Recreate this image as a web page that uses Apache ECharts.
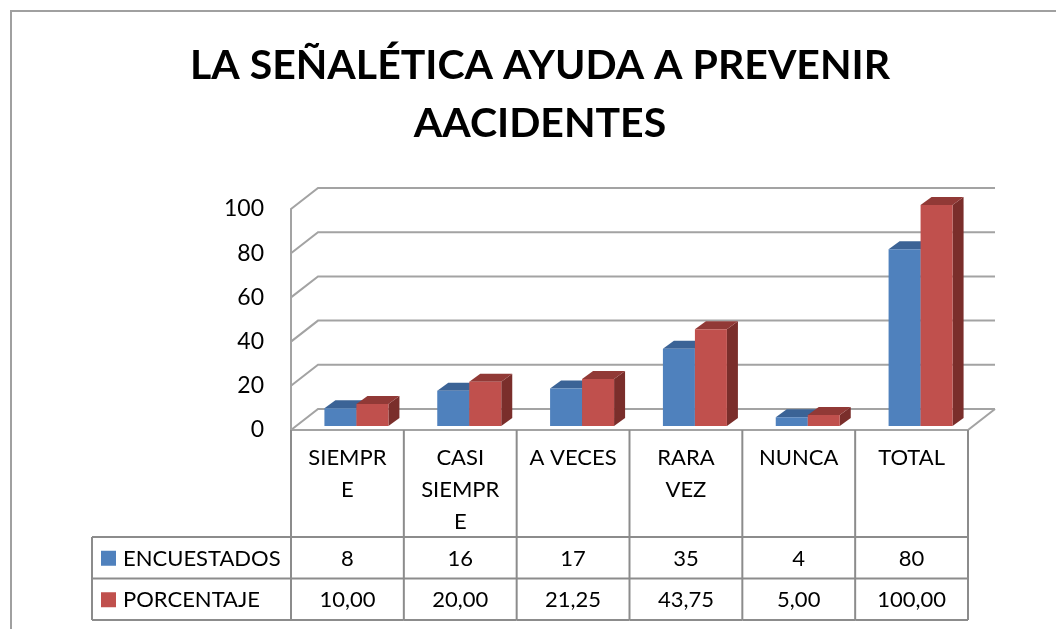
<!DOCTYPE html>
<html>
<head>
<meta charset="utf-8">
<script src="https://cdn.jsdelivr.net/npm/echarts@6/dist/echarts.min.js"></script>
<style>
  html, body { margin: 0; padding: 0; background: #fff; }
  #chart { width: 1056px; height: 629px; }
</style>
</head>
<body>
<div id="chart"></div>
<script>
// datos del gráfico
const categories = ['SIEMPRE', 'CASI SIEMPRE', 'A VECES', 'RARA VEZ', 'NUNCA', 'TOTAL'];
const categoryLabels = ['SIEMPR\nE', 'CASI\nSIEMPR\nE', 'A VECES', 'RARA\nVEZ', 'NUNCA', 'TOTAL'];
const seriesNames = ['ENCUESTADOS', 'PORCENTAJE'];
const encuestados = [8, 16, 17, 35, 4, 80];
const porcentaje = [10, 20, 21.25, 43.75, 5, 100];
const encuestadosLabels = ['8', '16', '17', '35', '4', '80'];
const porcentajeLabels = ['10,00', '20,00', '21,25', '43,75', '5,00', '100,00'];
const yTicks = [0, 20, 40, 60, 80, 100];

const FONT = 'Lato';
const GRID_COLOR = '#a3a3a3';
const TABLE_COLOR = '#8c8c8c';
const DEPTH = { dx: 27, dy: -21 };      // profundidad del piso / paredes
const BAR_SHIFT = { dx: 9, dy: -4 };    // posición de las barras en profundidad
const BAR_DEPTH = { dx: 11, dy: -8 };   // profundidad de cada barra
const BAR_W = 32;

const colors = [
  { front: '#4f81bd', top: '#3b6396', side: '#385d8a' },
  { front: '#c0504d', top: '#913936', side: '#7a2e2b' }
];

// paredes y líneas de división en 3D
function renderWalls(params, api) {
  const cs = params.coordSys;
  const v = api.value(1);
  const y = api.coord([0, v])[1];
  const L = cs.x, R = cs.x + cs.width;
  const children = [{
    type: 'polyline',
    shape: { points: [[L, y], [L + DEPTH.dx, y + DEPTH.dy], [R + DEPTH.dx, y + DEPTH.dy]] },
    style: { stroke: GRID_COLOR, lineWidth: 2, fill: null }
  }];
  if (v === 0) {
    children.push({
      type: 'polyline',
      shape: { points: [[L, y], [R, y], [R + DEPTH.dx, y + DEPTH.dy]] },
      style: { stroke: GRID_COLOR, lineWidth: 2, fill: null }
    });
  }
  return { type: 'group', children: children };
}

// barras con caras frontal, superior y lateral
function makeBarRenderer(k) {
  return function (params, api) {
    const cs = params.coordSys;
    const i = api.value(0);
    const bw = cs.width / categories.length;
    const cx = cs.x + (i + 0.5) * bw + BAR_SHIFT.dx;
    const x0 = k === 0 ? cx - BAR_W : cx;
    const x1 = x0 + BAR_W;
    const yTop = api.coord([i, api.value(1)])[1] + BAR_SHIFT.dy;
    const yBase = api.coord([i, 0])[1] + BAR_SHIFT.dy;
    const c = colors[k];
    return {
      type: 'group',
      children: [
        {
          type: 'polygon',
          shape: { points: [[x1, yTop], [x1 + BAR_DEPTH.dx, yTop + BAR_DEPTH.dy], [x1 + BAR_DEPTH.dx, yBase + BAR_DEPTH.dy], [x1, yBase]] },
          style: { fill: c.side }
        },
        {
          type: 'polygon',
          shape: { points: [[x0, yTop], [x1, yTop], [x1 + BAR_DEPTH.dx, yTop + BAR_DEPTH.dy], [x0 + BAR_DEPTH.dx, yTop + BAR_DEPTH.dy]] },
          style: { fill: c.top }
        },
        {
          type: 'rect',
          shape: { x: x0, y: yTop, width: BAR_W, height: yBase - yTop },
          style: { fill: c.front }
        }
      ]
    };
  };
}

function line(x1, y1, x2, y2) {
  return { type: 'line', shape: { x1: x1, y1: y1, x2: x2, y2: y2 }, style: { stroke: TABLE_COLOR, lineWidth: 2 } };
}

function cellText(text, x, y, align) {
  return {
    type: 'text',
    style: { text: text, x: x, y: y, align: align || 'center', verticalAlign: 'middle', fontSize: 22, fontFamily: FONT, fill: '#000' }
  };
}

// tabla de datos bajo el gráfico
function renderTable(params, api) {
  const cs = params.coordSys;
  const i = api.value(0);
  const bw = cs.width / categories.length;
  const x0 = cs.x + i * bw, x1 = x0 + bw;
  const base = api.coord([i, 0])[1];
  const r1 = base + 107, r2 = r1 + 41.5, r3 = r2 + 41.5;
  const children = [
    line(x0, base, x0, r3),
    line(x0, r1, x1, r1),
    line(x0, r2, x1, r2),
    line(x0, r3, x1, r3),
    cellText(encuestadosLabels[i], (x0 + x1) / 2, (r1 + r2) / 2 + 1),
    cellText(porcentajeLabels[i], (x0 + x1) / 2, (r2 + r3) / 2 + 1)
  ];
  if (i === categories.length - 1) children.push(line(x1, base, x1, r3));
  if (i === 0) {
    const lx = x0 - 199;
    children.push(
      line(lx, r1, x0, r1), line(lx, r2, x0, r2), line(lx, r3, x0, r3), line(lx, r1, lx, r3),
      { type: 'rect', shape: { x: lx + 9, y: (r1 + r2) / 2 - 7, width: 15, height: 15 }, style: { fill: colors[0].front } },
      { type: 'rect', shape: { x: lx + 9, y: (r2 + r3) / 2 - 7, width: 15, height: 15 }, style: { fill: colors[1].front } },
      cellText(seriesNames[0], lx + 31, (r1 + r2) / 2 + 1, 'left'),
      cellText(seriesNames[1], lx + 31, (r2 + r3) / 2 + 1, 'left')
    );
  }
  return { type: 'group', children: children };
}

const chart = echarts.init(document.getElementById('chart'), null, { renderer: 'canvas' });

chart.setOption({
  animation: false,
  backgroundColor: '#fff',
  title: {
    text: 'LA SEÑALÉTICA AYUDA A PREVENIR\nAACIDENTES',
    left: 535,
    top: 32,
    textAlign: 'center',
    textStyle: { fontSize: 41, fontWeight: 'bold', fontFamily: FONT, color: '#000', lineHeight: 58 }
  },
  graphic: [{
    type: 'rect',
    shape: { x: 11, y: 11, width: 1200, height: 800 },
    style: { fill: null, stroke: '#a0a0a0', lineWidth: 2 },
    silent: true
  }],
  grid: { left: 291, right: 88, top: 209, bottom: 199 },
  xAxis: {
    type: 'category',
    data: categories,
    axisLine: { show: false },
    axisTick: { show: false },
    axisLabel: {
      margin: 12,
      interval: 0,
      fontSize: 22,
      lineHeight: 32,
      fontFamily: FONT,
      color: '#000',
      formatter: (v, idx) => categoryLabels[idx]
    }
  },
  yAxis: {
    type: 'value',
    min: 0,
    max: 100,
    interval: 20,
    axisLine: { show: true, lineStyle: { color: GRID_COLOR, width: 2 } },
    axisTick: { show: false },
    splitLine: { show: false },
    axisLabel: { margin: 27, fontSize: 23, fontFamily: FONT, color: '#000', padding: [4, 0, 0, 0] }
  },
  series: [
    {
      type: 'custom',
      name: 'walls',
      clip: false,
      silent: true,
      z: 1,
      renderItem: renderWalls,
      encode: { x: 0, y: 1 },
      data: yTicks.map(v => [0, v])
    },
    {
      type: 'custom',
      name: seriesNames[0],
      clip: false,
      z: 3,
      renderItem: makeBarRenderer(0),
      encode: { x: 0, y: 1 },
      data: encuestados.map((v, i) => [i, v])
    },
    {
      type: 'custom',
      name: seriesNames[1],
      clip: false,
      z: 4,
      renderItem: makeBarRenderer(1),
      encode: { x: 0, y: 1 },
      data: porcentaje.map((v, i) => [i, v])
    },
    {
      type: 'custom',
      name: 'tabla',
      clip: false,
      silent: true,
      z: 2,
      renderItem: renderTable,
      encode: { x: 0, y: 1 },
      data: categories.map((c, i) => [i, 0])
    }
  ]
});
</script>
</body>
</html>
